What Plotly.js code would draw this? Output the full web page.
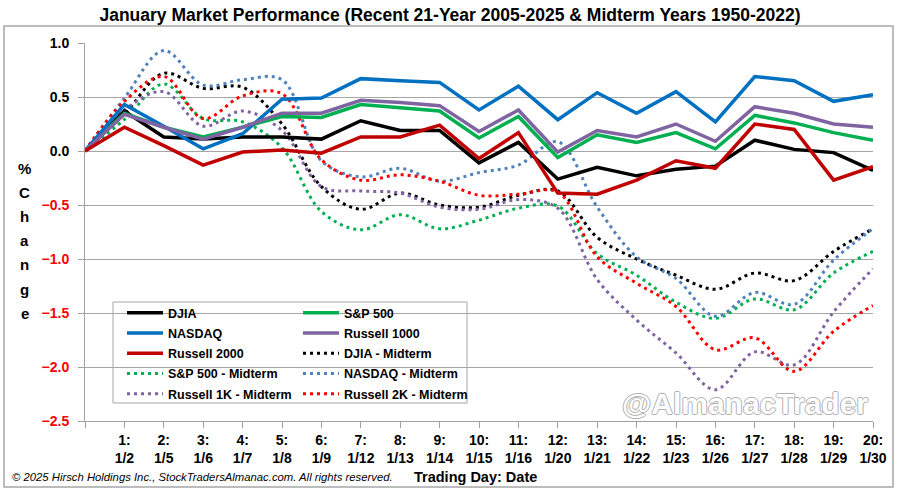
<!DOCTYPE html>
<html>
<head>
<meta charset="utf-8">
<script src="https://cdn.plot.ly/plotly-3.0.1.min.js"></script>
<style>html,body{margin:0;padding:0;background:#fff;}#chart{width:900px;height:491px;}</style>
</head>
<body>
<div id="chart"></div>
<script>
// ---- data ----
const dayNums = [0,1,2,3,4,5,6,7,8,9,10,11,12,13,14,15,16,17,18,19,20];
const dayLabels = ["","1:<br>1/2","2:<br>1/5","3:<br>1/6","4:<br>1/7","5:<br>1/8","6:<br>1/9","7:<br>1/12","8:<br>1/13","9:<br>1/14","10:<br>1/15","11:<br>1/16","12:<br>1/20","13:<br>1/21","14:<br>1/22","15:<br>1/23","16:<br>1/26","17:<br>1/27","18:<br>1/28","19:<br>1/29","20:<br>1/30"];

const djia    = [0,0.37,0.13,0.11,0.13,0.13,0.11,0.28,0.19,0.19,-0.11,0.08,-0.26,-0.15,-0.23,-0.17,-0.14,0.10,0.015,-0.015,-0.18];
const sp500   = [0,0.35,0.22,0.13,0.22,0.32,0.31,0.43,0.40,0.37,0.12,0.32,-0.06,0.15,0.08,0.17,0.02,0.33,0.26,0.17,0.10];
const nasdaq  = [0,0.43,0.23,0.02,0.16,0.48,0.49,0.67,0.65,0.635,0.38,0.60,0.29,0.54,0.35,0.55,0.27,0.69,0.65,0.46,0.52];
const r1000   = [0,0.34,0.22,0.11,0.22,0.35,0.35,0.47,0.45,0.42,0.18,0.38,-0.01,0.19,0.13,0.25,0.09,0.41,0.35,0.25,0.22];
const r2000   = [0,0.22,0.05,-0.13,-0.01,0.01,-0.02,0.13,0.13,0.24,-0.07,0.17,-0.39,-0.40,-0.27,-0.09,-0.16,0.25,0.20,-0.27,-0.145];

const djiaMid   = [0,0.34,0.72,0.58,0.59,0.25,-0.33,-0.54,-0.39,-0.50,-0.52,-0.41,-0.37,-0.80,-1.00,-1.15,-1.28,-1.13,-1.20,-0.93,-0.72];
const sp500Mid  = [0,0.29,0.62,0.30,0.27,0.03,-0.56,-0.73,-0.59,-0.72,-0.64,-0.53,-0.51,-0.95,-1.15,-1.40,-1.55,-1.37,-1.47,-1.13,-0.93];
const nasdaqMid = [0,0.49,0.93,0.61,0.66,0.66,-0.09,-0.24,-0.16,-0.28,-0.20,-0.13,0.085,-0.52,-0.98,-1.18,-1.53,-1.31,-1.42,-1.01,-0.72];
const r1kMid    = [0,0.38,0.55,0.23,0.37,0.19,-0.33,-0.37,-0.39,-0.52,-0.54,-0.45,-0.53,-1.19,-1.565,-1.87,-2.21,-1.86,-1.98,-1.49,-1.09];
const r2kMid    = [0,0.46,0.69,0.30,0.51,0.53,-0.08,-0.27,-0.22,-0.28,-0.41,-0.40,-0.38,-0.98,-1.225,-1.44,-1.84,-1.73,-2.04,-1.67,-1.43];

const yTickVals = [1.0,0.5,0.0,-0.5,-1.0,-1.5,-2.0,-2.5];
const yTickText = ["1.0","0.5","0.0","<span style='color:#FF0000'>−0.5</span>","<span style='color:#FF0000'>−1.0</span>","<span style='color:#FF0000'>−1.5</span>","<span style='color:#FF0000'>−2.0</span>","<span style='color:#FF0000'>−2.5</span>"];
const yTitleLetters = ["%","C","h","a","n","g","e"];

// ---- styling ----
const SANS = "'Liberation Sans',Arial,sans-serif";
const DOT = "3px,4px";

function solid(name, y, color, legend, rank){
  return {x: dayNums, y: y, name: name, type:'scatter', mode:'lines', legendgroup:name,
    line:{color:color, width:3.5}, legend: legend, legendrank: rank, hoverinfo:'skip'};
}
function dotted(name, y, color, legend, rank){
  return {x: dayNums, y: y, name: name, type:'scatter', mode:'lines', legendgroup:name,
    line:{color:color, width:3, dash:DOT, shape:'spline', smoothing:1}, legend: legend, legendrank: rank, hoverinfo:'skip'};
}

const traces = [
  dotted("DJIA - Midterm", djiaMid, "#000000", "legend2", 3),
  dotted("S&P 500 - Midterm", sp500Mid, "#00B050", "legend", 4),
  dotted("NASDAQ - Midterm", nasdaqMid, "#4F81BD", "legend2", 4),
  dotted("Russell 1K - Midterm", r1kMid, "#8064A2", "legend", 5),
  dotted("Russell 2K - Midterm", r2kMid, "#FF0000", "legend2", 5),
  solid("DJIA", djia, "#000000", "legend", 1),
  solid("S&P 500", sp500, "#00B050", "legend2", 1),
  solid("NASDAQ", nasdaq, "#0070C0", "legend", 2),
  solid("Russell 1000", r1000, "#8064A2", "legend2", 2),
  solid("Russell 2000", r2000, "#C00000", "legend", 3)
];

const L = 85, T = 43, W = 788, H = 378;
const px = v => (v - L) / W;
const py = v => (T + H - v) / H;

const annotations = [
  {xref:'paper', yref:'paper', x:px(10), y:py(477), xanchor:'left', yanchor:'middle', showarrow:false,
   text:"© 2025 Hirsch Holdings Inc., StockTradersAlmanac.com. All rights reserved.",
   font:{family:SANS, size:11.3, color:'#000', style:'italic'}},
  {xref:'paper', yref:'paper', x:px(475), y:py(477), xanchor:'center', yanchor:'middle', showarrow:false,
   text:"<b>Trading Day: Date</b>", font:{family:SANS, size:14.5, color:'#000'}},
  {xref:'paper', yref:'paper', x:px(745), y:py(403), xanchor:'center', yanchor:'middle', showarrow:false,
   text:"<b>@AlmanacTrader</b>", font:{family:SANS, size:30, color:'#FFFFFF',
   shadow:"1px 0 0 #B0B0B0, -1px 0 0 #B0B0B0, 0 1px 0 #B0B0B0, 0 -1px 0 #B0B0B0"}}
];
yTitleLetters.forEach((ch, i) => {
  annotations.push({xref:'paper', yref:'paper', x:px(25), y:py(168 + i*24.2), xanchor:'center', yanchor:'middle',
    showarrow:false, text:"<b>"+ch+"</b>", font:{family:SANS, size:15, color:'#000'}});
});

const legendCommon = {bgcolor:'rgba(0,0,0,0)', borderwidth:0, itemwidth:36, traceorder:'grouped', tracegroupgap:1,
  font:{family:SANS, size:12.5, color:'#000', weight:'bold'}, yanchor:'top', xanchor:'left', itemclick:false};

const layout = {
  width:900, height:491,
  margin:{l:L, r:900-L-W, t:T, b:491-T-H, pad:0},
  paper_bgcolor:'#FFFFFF', plot_bgcolor:'#FFFFFF',
  title:{text:"<b>January Market Performance (Recent 21-Year 2005-2025 & Midterm Years 1950-2022)</b>",
    font:{family:SANS, size:17.5, color:'#000'}, x:0.5, xref:'container', xanchor:'center', y:1-15/491, yref:'container', yanchor:'middle'},
  xaxis:{range:[0,20], tickmode:'array', tickvals:dayNums, ticktext:dayLabels, showgrid:false, zeroline:false,
    showline:true, linecolor:'#A0A0A0', linewidth:1, ticks:'outside', ticklen:6, tickcolor:'#A0A0A0',
    tickfont:{family:SANS, size:14, color:'#000', weight:'bold'}, fixedrange:true},
  yaxis:{range:[-2.5,1.0], tickmode:'array', tickvals:yTickVals, ticktext:yTickText, showgrid:true, gridcolor:'#A6A6A6', gridwidth:1,
    zeroline:false, showline:true, linecolor:'#A0A0A0', linewidth:1, ticks:'outside', ticklen:6, tickcolor:'#A0A0A0',
    tickfont:{family:SANS, size:14, color:'#000', weight:'bold'}, ticklabelstandoff:6, fixedrange:true},
  showlegend:true,
  legend: Object.assign({}, legendCommon, {x:px(122), y:py(298)}),
  legend2: Object.assign({}, legendCommon, {x:px(298), y:py(298)}),
  shapes:[
    {type:'rect', xref:'paper', yref:'paper', x0:px(113), x1:px(467), y0:py(403), y1:py(302),
     line:{color:'#A6A6A6', width:1}, fillcolor:'#FFFFFF', layer:'between'},
    {type:'rect', xref:'paper', yref:'paper', x0:px(4), x1:px(893), y0:py(487), y1:py(26),
     line:{color:'#A6A6A6', width:1.5}, fillcolor:'rgba(0,0,0,0)', layer:'above'}
  ],
  annotations: annotations
};

Plotly.newPlot('chart', traces, layout, {displayModeBar:false, staticPlot:true});
</script>
</body>
</html>
